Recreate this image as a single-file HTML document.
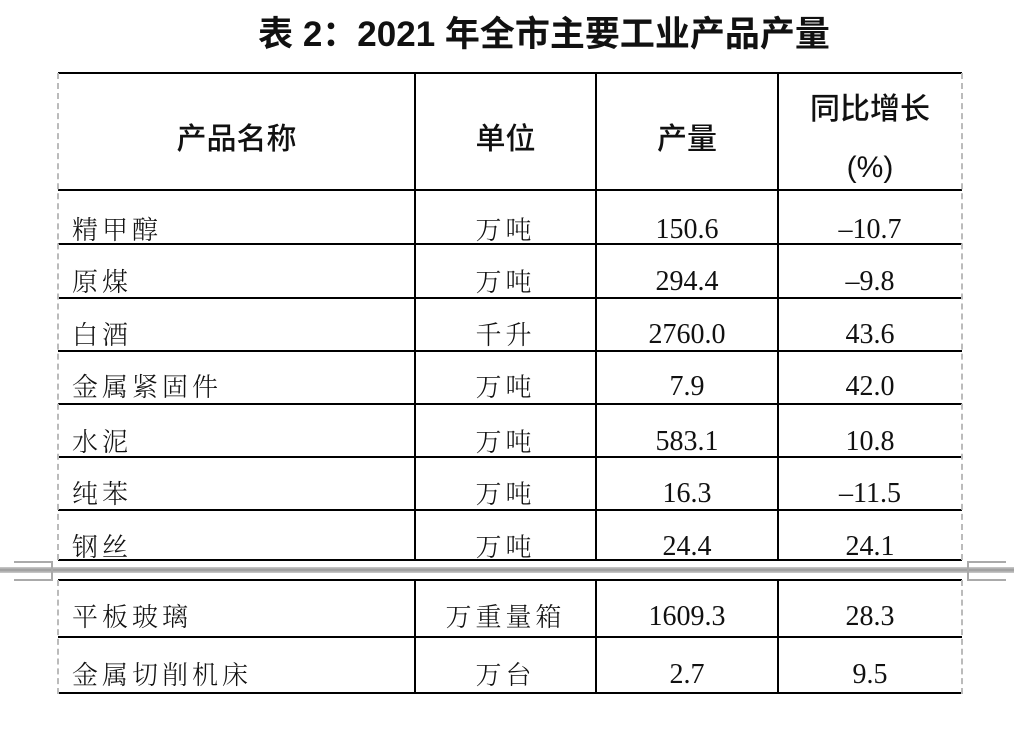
<!DOCTYPE html>
<html><head><meta charset="utf-8"><style>
body{margin:0;background:#fff;width:1014px;height:730px;position:relative;overflow:hidden;font-family:"Liberation Serif","Noto Serif CJK SC",serif;color:#111}
.a{position:absolute}
.h{background:#000;height:2px;left:58px;width:904px}
.v{background:#000;width:2px}
.d{border-left:2px dashed #bbb;width:0}
.t{position:absolute;line-height:30px;height:30px;white-space:nowrap}
.n{font-family:"Liberation Sans","Noto Sans CJK SC",sans-serif;font-size:26px;letter-spacing:3px;left:72px}
.c{text-align:center;font-size:28px}
.hd{font-family:"Liberation Sans","Noto Sans CJK SC",sans-serif;font-weight:500;font-size:30px;text-align:center}
.cj{font-family:"Noto Serif CJK SC",serif;font-weight:300;letter-spacing:4px;font-size:26px}
</style></head><body>
<div class="t hd" style="left:0;width:1088px;top:16px;font-size:35px;height:38px;line-height:38px;font-weight:bold">表 2：2021 年全市主要工业产品产量</div>

<div class="a h" style="top:72px"></div>
<div class="a h" style="top:189px"></div>
<div class="a h" style="top:243px"></div>
<div class="a h" style="top:297px"></div>
<div class="a h" style="top:350px"></div>
<div class="a h" style="top:403px"></div>
<div class="a h" style="top:456px"></div>
<div class="a h" style="top:509px"></div>
<div class="a h" style="top:559px"></div>
<div class="a h" style="top:579px"></div>
<div class="a h" style="top:636px"></div>
<div class="a h" style="top:692px"></div>

<div class="a d" style="left:57px;top:73px;height:487px"></div>
<div class="a d" style="left:961px;top:73px;height:487px"></div>
<div class="a d" style="left:57px;top:580px;height:114px"></div>
<div class="a d" style="left:961px;top:580px;height:114px"></div>
<div class="a v" style="left:414px;top:73px;height:487px"></div>
<div class="a v" style="left:595px;top:73px;height:487px"></div>
<div class="a v" style="left:777px;top:73px;height:487px"></div>
<div class="a v" style="left:414px;top:580px;height:114px"></div>
<div class="a v" style="left:595px;top:580px;height:114px"></div>
<div class="a v" style="left:777px;top:580px;height:114px"></div>

<div class="a" style="left:0;top:567px;width:1014px;height:6px;background:linear-gradient(#ccc,#999,#ccc)"></div>
<div class="a" style="left:14px;top:561px;width:37px;height:16px;border:2px solid #aaa;border-left:none"></div>
<div class="a" style="left:967px;top:561px;width:37px;height:16px;border:2px solid #aaa;border-right:none"></div>

<div class="t hd" style="left:58px;width:357px;top:125px">产品名称</div>
<div class="t hd" style="left:415px;width:181px;top:125px">单位</div>
<div class="t hd" style="left:596px;width:182px;top:125px">产量</div>
<div class="t hd" style="left:778px;width:184px;top:95px">同比增长</div>
<div class="t hd" style="left:778px;width:184px;top:153px">(%)</div>

<div class="t n cj" style="top:214px">精甲醇</div>
<div class="t n cj" style="top:266px">原煤</div>
<div class="t n cj" style="top:319px">白酒</div>
<div class="t n cj" style="top:371px">金属紧固件</div>
<div class="t n cj" style="top:426px">水泥</div>
<div class="t n cj" style="top:478px">纯苯</div>
<div class="t n cj" style="top:531px">钢丝</div>
<div class="t n cj" style="top:601px">平板玻璃</div>
<div class="t n cj" style="top:659px">金属切削机床</div>

<div class="t c cj" style="left:415px;width:181px;top:214px">万吨</div>
<div class="t c cj" style="left:415px;width:181px;top:266px">万吨</div>
<div class="t c cj" style="left:415px;width:181px;top:319px">千升</div>
<div class="t c cj" style="left:415px;width:181px;top:371px">万吨</div>
<div class="t c cj" style="left:415px;width:181px;top:426px">万吨</div>
<div class="t c cj" style="left:415px;width:181px;top:478px">万吨</div>
<div class="t c cj" style="left:415px;width:181px;top:531px">万吨</div>
<div class="t c cj" style="left:415px;width:181px;top:601px">万重量箱</div>
<div class="t c cj" style="left:415px;width:181px;top:659px">万台</div>

<div class="t c" style="left:596px;width:182px;top:215px">150.6</div>
<div class="t c" style="left:596px;width:182px;top:267px">294.4</div>
<div class="t c" style="left:596px;width:182px;top:320px">2760.0</div>
<div class="t c" style="left:596px;width:182px;top:372px">7.9</div>
<div class="t c" style="left:596px;width:182px;top:427px">583.1</div>
<div class="t c" style="left:596px;width:182px;top:479px">16.3</div>
<div class="t c" style="left:596px;width:182px;top:532px">24.4</div>
<div class="t c" style="left:596px;width:182px;top:602px">1609.3</div>
<div class="t c" style="left:596px;width:182px;top:660px">2.7</div>

<div class="t c" style="left:778px;width:184px;top:215px">–10.7</div>
<div class="t c" style="left:778px;width:184px;top:267px">–9.8</div>
<div class="t c" style="left:778px;width:184px;top:320px">43.6</div>
<div class="t c" style="left:778px;width:184px;top:372px">42.0</div>
<div class="t c" style="left:778px;width:184px;top:427px">10.8</div>
<div class="t c" style="left:778px;width:184px;top:479px">–11.5</div>
<div class="t c" style="left:778px;width:184px;top:532px">24.1</div>
<div class="t c" style="left:778px;width:184px;top:602px">28.3</div>
<div class="t c" style="left:778px;width:184px;top:660px">9.5</div>
</body></html>
